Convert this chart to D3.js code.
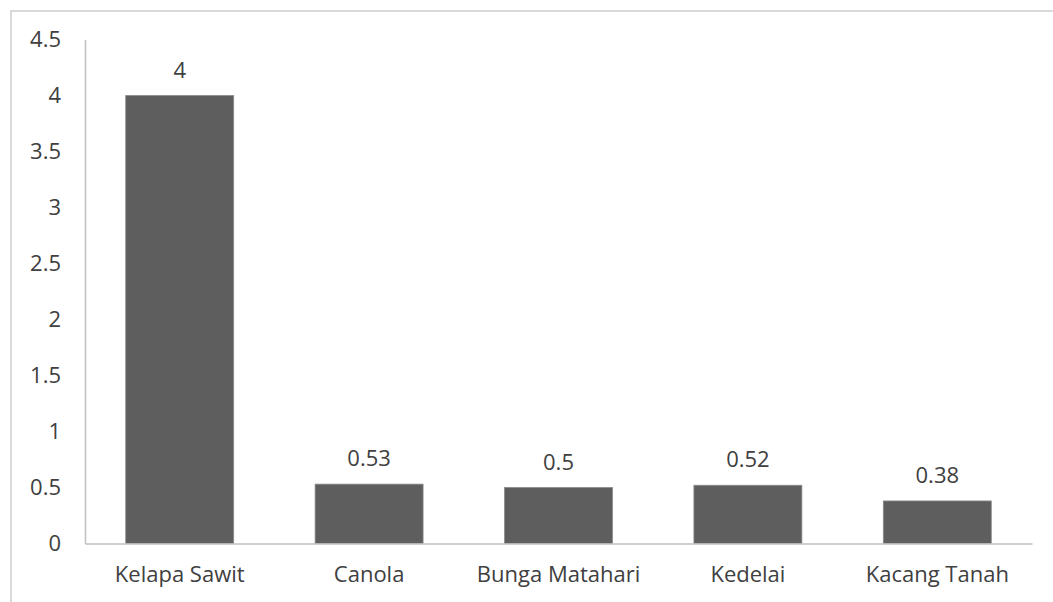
<!DOCTYPE html>
<html><head><meta charset="utf-8">
<script src="https://cdn.jsdelivr.net/npm/d3@7"></script>
<style>html,body{margin:0;padding:0;background:#fff;} svg{display:block;}</style>
</head><body>
<svg id="c" width="1053" height="602"></svg>
<script>
const categories = ["Kelapa Sawit", "Canola", "Bunga Matahari", "Kedelai", "Kacang Tanah"];
const values = [4, 0.53, 0.5, 0.52, 0.38];
const valueLabels = ["4", "0.53", "0.5", "0.52", "0.38"];
const yTicks = [0, 0.5, 1, 1.5, 2, 2.5, 3, 3.5, 4, 4.5];

(function () {
const svg = d3.select("#c");
const font = "'Open Sans', 'Noto Sans', sans-serif";
const textColor = "#404040";
const fs = 22;

// chart border
svg.append("path").attr("d", "M11,602 L11,11 L1053,11")
  .attr("fill", "none").attr("stroke", "#d9d9d9").attr("stroke-width", 2);

const mLeft = 85, mRight = 1032, mTop = 39.5, mBottom = 543.5;
const x = d3.scaleBand().domain(categories).range([mLeft, mRight]).paddingInner(0.43).paddingOuter(0.215);
const y = d3.scaleLinear().domain([0, 4.5]).range([mBottom, mTop]);

// bars
svg.selectAll("rect.bar").data(values).join("rect")
  .attr("class", "bar")
  .attr("x", (d, i) => x(categories[i]))
  .attr("width", x.bandwidth())
  .attr("y", d => y(d))
  .attr("height", d => y(0) - y(d))
  .attr("fill", "#5e5e5e")
  .attr("stroke", "#8a8a8a").attr("stroke-width", 0.8);

// y axis
const yAxis = d3.axisLeft(y).tickValues(yTicks).tickSize(0).tickPadding(24).tickFormat(d3.format("~g"));
const gy = svg.append("g").attr("transform", `translate(${mLeft},0)`).call(yAxis);
gy.select(".domain").attr("stroke", "#bfbfbf").attr("stroke-width", 1.5);
gy.selectAll("text").attr("font-family", font).attr("font-size", fs).attr("fill", textColor);

// x axis
const xAxis = d3.axisBottom(x).tickSize(0).tickPadding(23);
const gx = svg.append("g").attr("transform", `translate(0,${mBottom})`).call(xAxis);
gx.select(".domain").attr("stroke", "#bfbfbf").attr("stroke-width", 1.5);
gx.selectAll("text").attr("font-family", font).attr("font-size", fs).attr("fill", textColor);

// value labels
svg.selectAll("text.val").data(values).join("text")
  .attr("class", "val")
  .attr("x", (d, i) => x(categories[i]) + x.bandwidth() / 2)
  .attr("y", d => y(d) - 18)
  .attr("text-anchor", "middle")
  .attr("font-family", font).attr("font-size", fs).attr("fill", textColor)
  .text((d, i) => valueLabels[i]);
})();
</script>
</body></html>
